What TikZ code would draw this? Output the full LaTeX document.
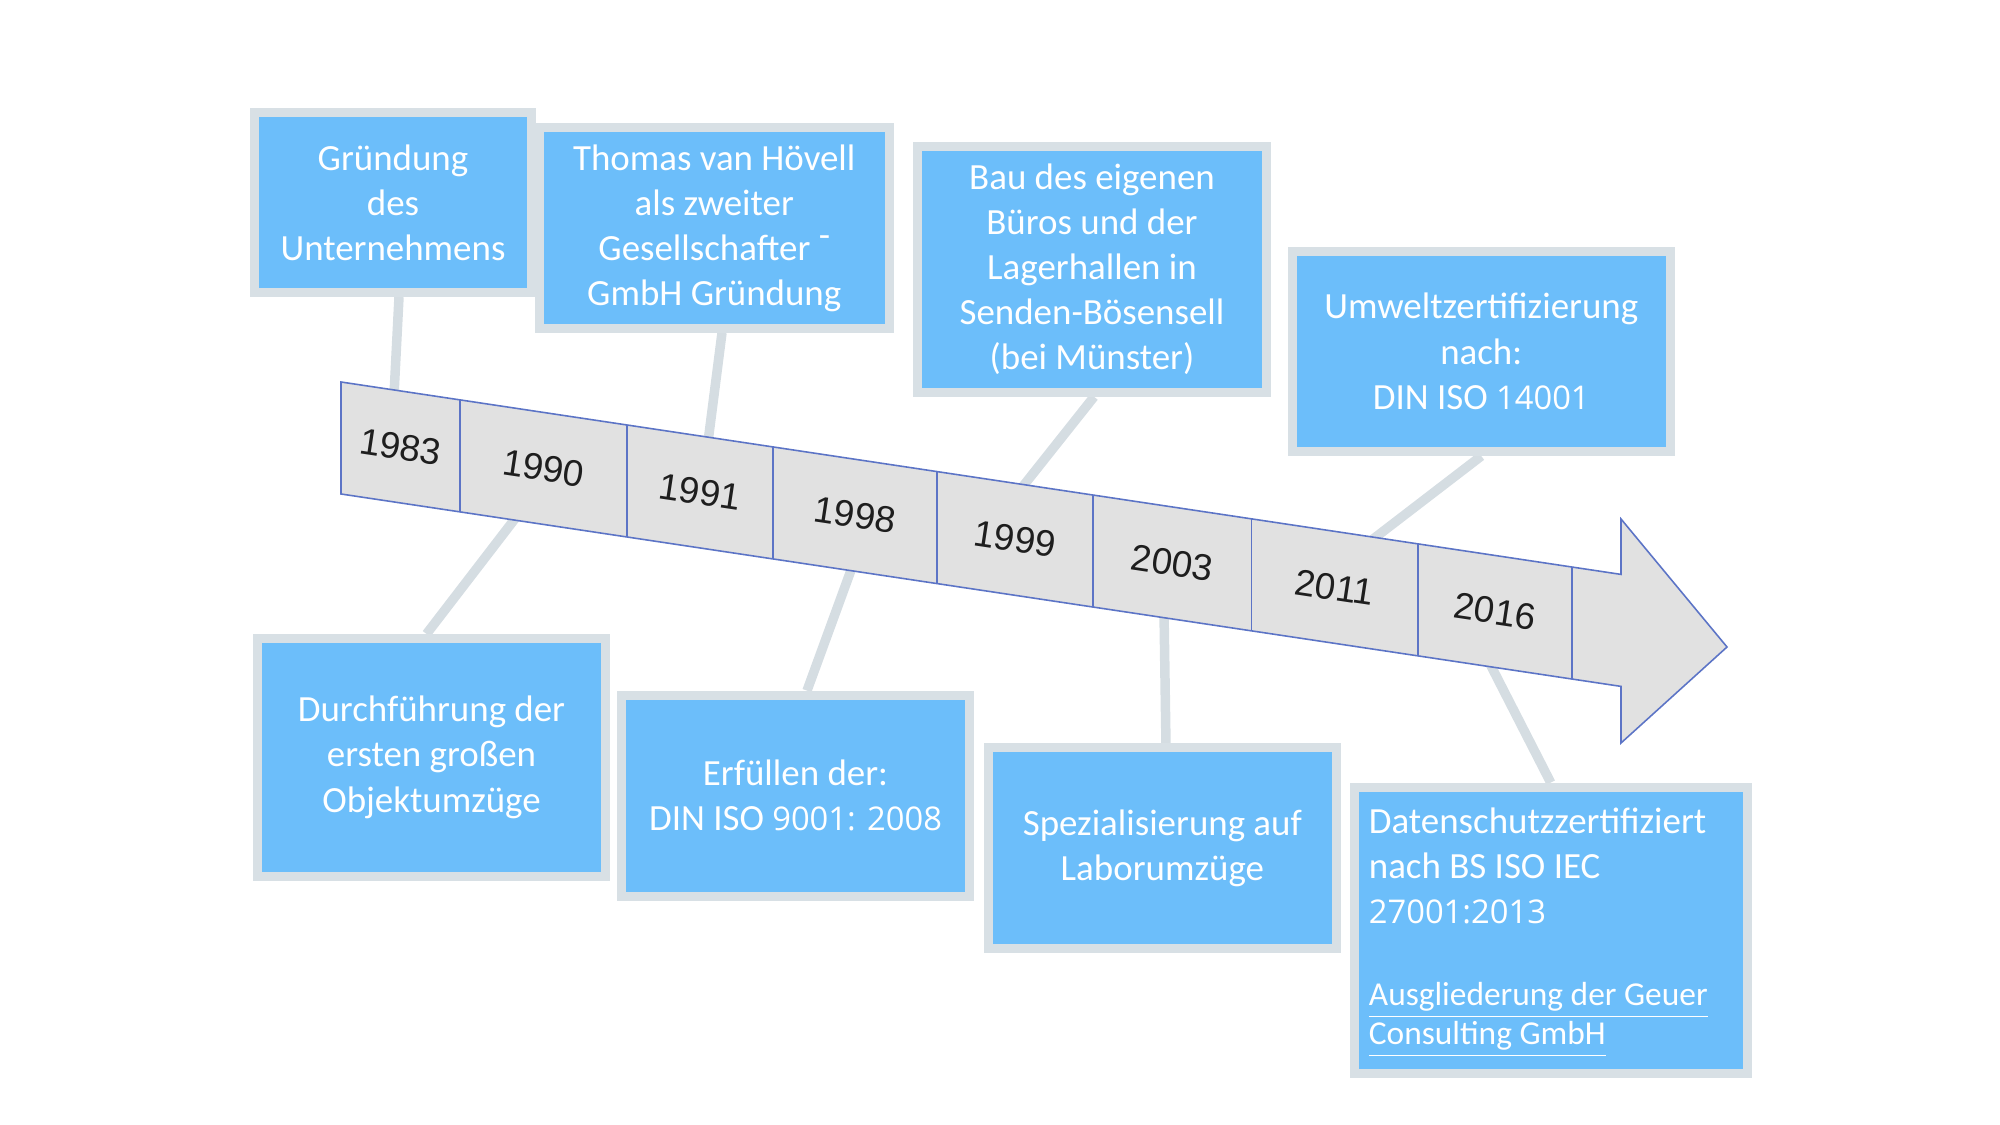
\documentclass[tikz,border=0pt]{standalone}
\usepackage{fontspec}
\setmainfont{Carlito}
\newfontfamily\yearfont{Liberation Sans}
\newfontfamily\numfont{Open Sans}
\newcommand\dig[1]{{\numfont\fontsize{9.3}{12.8}\selectfont #1}}
\definecolor{boxblue}{HTML}{6CBEFA}
\definecolor{boxgray}{HTML}{D8E0E5}
\definecolor{conngray}{HTML}{D5DDE2}
\definecolor{bandfill}{HTML}{E1E1E1}
\definecolor{bandline}{HTML}{5C74C6}
\definecolor{yeartext}{HTML}{1E1E1E}
\pgfdeclarelayer{connlayer}
\pgfdeclarelayer{bandlayer}
\pgfsetlayers{connlayer,bandlayer,main}
\tikzset{
  evbox/.style={draw=boxgray, line width=2.56pt, fill=boxblue, text=white,
    inner sep=0pt, align=center, font=\fontsize{10.5}{12.8}\selectfont},
  conn/.style={draw=conngray, line width=2.7pt},
  band/.style={draw=bandline, line width=0.45pt, fill=bandfill, line join=miter},
  divider/.style={draw=bandline, line width=0.45pt},
  year/.style={font=\yearfont\fontsize{10.5}{12}\selectfont, text=yeartext,
    rotate=-8.55, inner sep=0pt}
}
\begin{document}
\begin{tikzpicture}[x=0.01cm,y=-0.01cm]
\useasboundingbox (0,0) rectangle (2000,1125);

% event boxes (main layer, on top)
\path
  (393,202.5)      node[evbox, minimum width=2.77cm,  minimum height=1.80cm]  (b1) {Gründung\\des\\Unternehmens}
  (714.25,228)     node[evbox, minimum width=3.495cm, minimum height=2.004cm] (b2) {Thomas van Hövell\\als zweiter\\Gesellschafter \raisebox{0.35em}{-}\\GmbH Gründung}
  (1092,269.2)     node[evbox, minimum width=3.49cm,  minimum height=2.46cm]  (b3) {Bau des eigenen\\Büros und der\\Lagerhallen in\\Senden-Bösensell\\(bei Münster)}
  (1481.25,351.35) node[evbox, minimum width=3.775cm, minimum height=2.003cm] (b4) {Umweltzertifizierung\\nach:\\DIN ISO \dig{14001}}
  (431.5,757.35)   node[evbox, minimum width=3.48cm,  minimum height=2.377cm] (b5) {Durchführung der\\ersten großen\\Objektumzüge}
  (795.5,795.7)    node[evbox, minimum width=3.48cm,  minimum height=2.01cm]  (b6) {Erfüllen der:\\DIN ISO \dig{9001: 2008}}
  (1162.35,848.15) node[evbox, minimum width=3.477cm, minimum height=2.007cm] (b7) {Spezialisierung auf\\Laborumzüge}
  (1550.7,930.35)  node[evbox, minimum width=3.924cm, minimum height=2.863cm] (b8)
     {\makebox[3.634cm][l]{\begin{tabular}{@{}l@{}}Datenschutzzertifiziert\\ nach BS ISO IEC\\ \dig{27001:2013}\\[10.5pt]
      {\fontsize{9.5}{11.1}\selectfont\underline{Ausgliederung der Geuer}}\\[-1.7pt]
      {\fontsize{9.5}{11.1}\selectfont\underline{Consulting GmbH}}\end{tabular}}};

% connector end points inside the timeline band
\coordinate (t1) at (394,395);
\coordinate (t2) at (708,442);
\coordinate (t3) at (1020,490);
\coordinate (t4) at (1368,543);
\coordinate (t5) at (518.6,514);
\coordinate (t6) at (852.9,565);
\coordinate (t7) at (1164,612);
\coordinate (t8) at (1488,660);

% connectors (bottom layer)
\begin{pgfonlayer}{connlayer}
\draw[conn] ([xshift=0.06cm]b1.south) -- (t1);
\draw[conn] ([xshift=0.0775cm]b2.south) -- (t2);
\draw[conn] ([xshift=0.02cm]b3.south) -- (t3);
\draw[conn] (b4.south) -- (t4);
\draw[conn] ([xshift=-0.05cm]b5.north) -- (t5);
\draw[conn] ([xshift=0.115cm]b6.north) -- (t6);
\draw[conn] ([xshift=0.036cm]b7.north) -- (t7);
\draw[conn] (b8.north) -- (t8);
\end{pgfonlayer}

% timeline arrow (middle layer)
\begin{pgfonlayer}{bandlayer}
\draw[band] (341,382) -- (1621,574.4) -- (1621,519) -- (1727,647) -- (1621,743) -- (1621,686.4) -- (341,494) -- cycle;
\foreach \x in {460,627,773,937,1093,1251.5,1418,1572}
  \draw[divider] (\x,{382+0.1503*(\x-341)}) -- (\x,{494+0.1503*(\x-341)});
\foreach \a/\b/\t in {341/460/1983,460/627/1990,627/773/1991,773/937/1998,937/1093/1999,1093/1251.5/2003,1251.5/1418/2011,1418/1572/2016}
  \node[year] (y\t) at ({(\a+\b)/2},{438+0.1503*((\a+\b)/2-341)}) {\t};
\end{pgfonlayer}
\end{tikzpicture}
\end{document}
